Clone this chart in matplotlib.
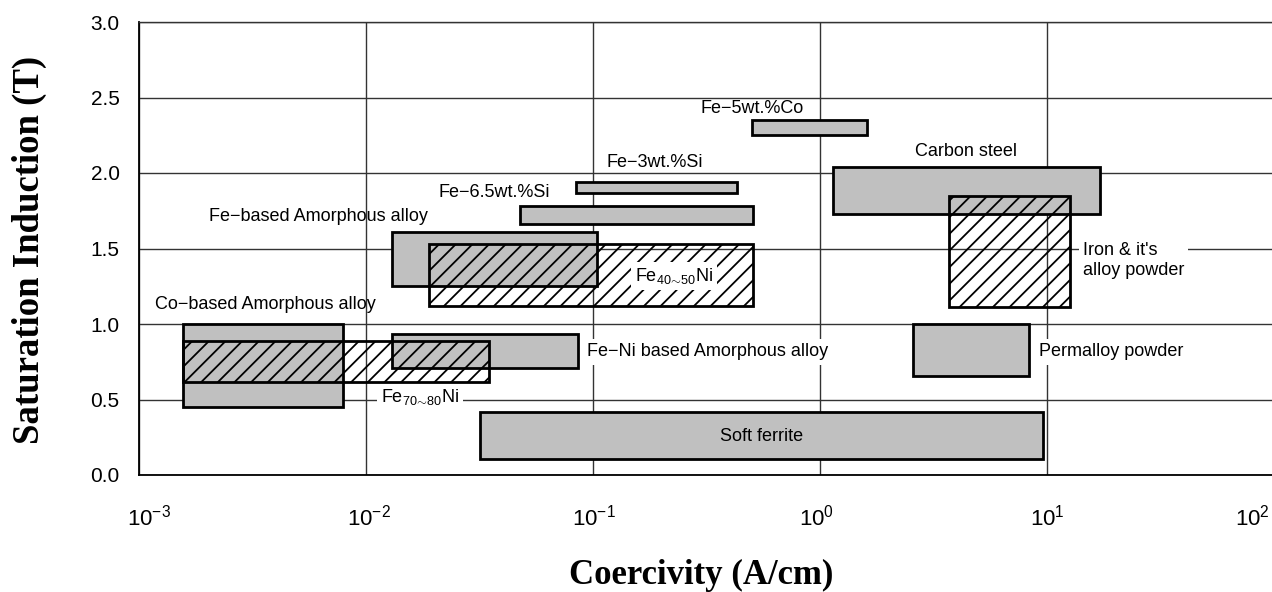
import matplotlib
matplotlib.use("Agg")
import matplotlib.pyplot as plt
from matplotlib.patches import Rectangle

# ---------------------------------------------------------------------------
# Data: coercivity range (A/cm) and saturation induction range (T)
# ---------------------------------------------------------------------------

names = [
    "Fe-5wt.%Co", "Carbon steel", "Fe-3wt.%Si", "Fe-6.5wt.%Si",
    "Fe-based Amorphous alloy", "Co-based Amorphous alloy",
    "Fe-Ni based Amorphous alloy", "Permalloy powder", "Soft ferrite",
    "Fe40-50Ni", "Fe70-80Ni", "Iron & alloy powder",
]
hc_lo = [0.50, 1.14, 0.084, 0.0476, 0.0130, 0.00156, 0.0130, 2.57, 0.0318, 0.019, 0.00156, 3.70]
hc_hi = [1.61, 17.1, 0.43, 0.507, 0.104, 0.0079, 0.086, 8.34, 9.6, 0.507, 0.0348, 12.6]
bs_lo = [2.25, 1.73, 1.87, 1.66, 1.25, 0.45, 0.71, 0.656, 0.106, 1.12, 0.616, 1.11]
bs_hi = [2.35, 2.04, 1.94, 1.78, 1.61, 1.00, 0.934, 1.00, 0.42, 1.53, 0.887, 1.85]
hatched = [False] * 9 + [True] * 3

# label text, anchor (coercivity, induction)
label_text = [
    "Fe\u22125wt.%Co", "Carbon steel", "Fe\u22123wt.%Si", "Fe\u22126.5wt.%Si",
    "Fe\u2212based Amorphous alloy", "Co\u2212based Amorphous alloy",
    "Fe\u2212Ni based Amorphous alloy", "Permalloy powder", "Soft ferrite",
    r"Fe$_{40\!\sim\!50}$Ni", r"Fe$_{70\!\sim\!80}$Ni", "Iron & it's\nalloy powder",
]
label_x = [0.50, 4.4, 0.1875, 0.0366, 0.00615, 0.00362, 0.094, 9.23, 0.555, 0.2276, 0.0173, 14.4]
label_y = [2.43, 2.14, 2.07, 1.874, 1.71, 1.126, 0.815, 0.815, 0.258, 1.318, 0.517, 1.42]

x_ticks = [1e-3, 1e-2, 1e-1, 1e0, 1e1, 1e2]
x_ticklabels = [r"$10^{-3}$", r"$10^{-2}$", r"$10^{-1}$", r"$10^{0}$", r"$10^{1}$", r"$10^{2}$"]
y_ticks = [0.0, 0.5, 1.0, 1.5, 2.0, 2.5, 3.0]

# layout of the labels (alignment, white box, draw order)
label_ha = ["center"] * 6 + ["left", "left", "center", "center", "center", "left"]
label_bg = [False] * 6 + [True, True, False, True, True, True]
label_z = [4] * 9 + [4, 1.5, 1.5]
xtick_shift = [10, 3, 1, -3, 0, -22]   # px, nudges the tick labels like the original

# ---------------------------------------------------------------------------
# Style
# ---------------------------------------------------------------------------

plt.rcParams["font.family"] = ["Liberation Sans", "DejaVu Sans"]
plt.rcParams["mathtext.fontset"] = "custom"
plt.rcParams["mathtext.rm"] = "Liberation Sans"
plt.rcParams["mathtext.it"] = "Liberation Sans:italic"
plt.rcParams["mathtext.bf"] = "Liberation Sans:bold"
plt.rcParams["hatch.linewidth"] = 1.3

GRAY = "#c0c0c0"
GRID = "#333333"

fig = plt.figure(figsize=(12.72, 5.92), dpi=100)
ax = fig.add_axes([139 / 1272, 1 - 475 / 592, 1135 / 1272, 453 / 592])

ax.set_xscale("log")
ax.set_xlim(1e-3, 1e2)
ax.set_ylim(0, 3.0)

ax.set_axisbelow(True)
ax.grid(True, which="major", color=GRID, linewidth=1.0)
ax.minorticks_off()

# filled boxes first, hatched (unfilled) boxes on top
for i in range(len(names)):
    if hatched[i]:
        continue
    ax.add_patch(Rectangle((hc_lo[i], bs_lo[i]), hc_hi[i] - hc_lo[i], bs_hi[i] - bs_lo[i],
                           facecolor=GRAY, edgecolor="black", linewidth=2.0, zorder=2))
for i in range(len(names)):
    if not hatched[i]:
        continue
    ax.add_patch(Rectangle((hc_lo[i], bs_lo[i]), hc_hi[i] - hc_lo[i], bs_hi[i] - bs_lo[i],
                           facecolor="none", edgecolor="black", linewidth=2.0,
                           hatch="//", zorder=3))

for txt, lx, ly, ha, bg, z in zip(label_text, label_x, label_y, label_ha, label_bg, label_z):
    kw = {}
    if bg:
        kw["bbox"] = dict(facecolor="white", edgecolor="none", pad=3)
    ax.text(lx, ly, txt, ha=ha, va="center", fontsize=13, zorder=z,
            linespacing=1.2, **kw)

# x tick labels drawn as annotations so each one can be nudged
ax.set_xticks(x_ticks)
ax.set_xticklabels([])
for xv, lab, dx in zip(x_ticks, x_ticklabels, xtick_shift):
    ax.annotate(lab, xy=(xv, 0), xycoords=("data", "axes fraction"),
                xytext=(dx * 0.72, -21), textcoords="offset points",
                ha="center", va="top", fontsize=16, annotation_clip=False)

ax.set_yticks(y_ticks)
ax.set_yticklabels([f"{v:.1f}" for v in y_ticks])
ax.tick_params(axis="both", length=0, labelsize=15)
ax.tick_params(axis="y", pad=14)

ax.spines["right"].set_visible(False)
ax.spines["top"].set_color(GRID)
ax.spines["top"].set_linewidth(1.0)
ax.spines["left"].set_linewidth(1.3)
ax.spines["bottom"].set_linewidth(1.3)

ax.set_xlabel("Coercivity (A/cm)", fontsize=25, fontweight="bold",
              family="Liberation Serif")
ax.xaxis.set_label_coords(0.495, -0.186)
ax.set_ylabel("Saturation Induction (T)", fontsize=26.5, fontweight="bold",
              family="Liberation Serif")
ax.yaxis.set_label_coords(-0.081, 0.497)

fig.savefig("out.png", dpi=100)
